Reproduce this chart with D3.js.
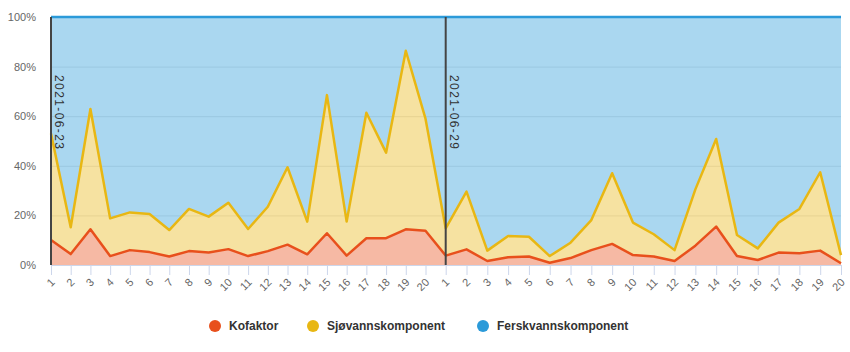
<!DOCTYPE html>
<html>
<head>
<meta charset="utf-8">
<script src="https://cdn.jsdelivr.net/npm/d3@7"></script>
<style>
  body { margin: 0; background: #fff; }
  svg text { font-family: "Liberation Sans", Arial, sans-serif; }
</style>
</head>
<body>
<div id="chart"></div>
<script>
// sample labels, two runs of 20
const labels = ["1","2","3","4","5","6","7","8","9","10","11","12","13","14","15","16","17","18","19","20",
                "1","2","3","4","5","6","7","8","9","10","11","12","13","14","15","16","17","18","19","20"];

const kofaktor = [10.1, 4.4, 14.4, 3.6, 6.0, 5.2, 3.4, 5.6, 5.0, 6.4, 3.6, 5.6, 8.2, 4.3, 12.8, 3.8, 10.8, 10.8, 14.4, 13.8,
                  3.8, 6.3, 1.6, 3.1, 3.4, 0.9, 2.8, 6.0, 8.5, 4.0, 3.4, 1.6, 7.8, 15.5, 3.6, 2.0, 5.0, 4.7, 5.8, 0.7];
const sjovann = [42.9, 10.8, 48.5, 15.2, 15.2, 15.4, 10.7, 17.0, 14.5, 18.7, 10.9, 17.9, 31.2, 13.2, 55.7, 13.7, 50.6, 34.5, 72.0, 45.2,
                 11.0, 23.3, 4.2, 8.6, 8.0, 2.7, 6.2, 12.1, 28.5, 13.1, 9.0, 4.4, 22.7, 35.3, 8.5, 4.7, 12.1, 17.9, 31.6, 3.3];
const ferskvann = [47.0, 84.8, 37.1, 81.2, 78.8, 79.4, 85.9, 77.4, 80.5, 74.9, 85.5, 76.5, 60.6, 82.5, 31.5, 82.5, 38.6, 54.7, 13.6, 41.0,
                   85.2, 70.4, 94.2, 88.3, 88.6, 96.4, 91.0, 81.9, 63.0, 82.9, 87.6, 94.0, 69.5, 49.2, 87.9, 93.3, 82.9, 77.4, 62.6, 96.0];

const dateLabels = ["2021-06-23", "2021-06-29"];
const dateIndex = [0, 20];

const seriesNames = ["Kofaktor", "Sjøvannskomponent", "Ferskvannskomponent"];
const colors = ["#e8501c", "#e8b713", "#2b9ad9"];
const yTickValues = [0, 0.2, 0.4, 0.6, 0.8, 1];

const width = 850, height = 352;
const mLeft = 51, mRight = 841, mTop = 17, mBottom = 265;

const rows = labels.map((l, i) => ({i: i, k: kofaktor[i], s: sjovann[i], f: ferskvann[i]}));
const stack = d3.stack().keys(["k", "s", "f"]).offset(d3.stackOffsetExpand);
const stacked = stack(rows);

// first run is a bit tighter than the second
const x = d3.scaleLinear().domain([0, 19, 20, 39]).range([mLeft, 425.5, 445.7, mRight]);
const y = d3.scaleLinear().domain([0, 1]).range([mBottom, mTop]);

const svg = d3.select('#chart').append('svg')
    .attr('width', width)
    .attr('height', height);

// grid
svg.append('g')
    .selectAll('line')
    .data(yTickValues.slice(1, -1))
    .enter().append('line')
    .attr('x1', mLeft).attr('x2', mRight)
    .attr('y1', d => y(d) + 0.5).attr('y2', d => y(d) + 0.5)
    .attr('stroke', '#e6e6e6');

const area = d3.area()
    .x(d => x(d.data.i))
    .y0(d => y(d[0]))
    .y1(d => y(d[1]));
const line = d3.line()
    .x(d => x(d.data.i))
    .y(d => y(d[1]));

svg.append('g').selectAll('path')
    .data(stacked)
    .enter().append('path')
    .attr('d', area)
    .attr('fill', (d, i) => colors[i])
    .attr('fill-opacity', 0.4);

// x axis
const xAxis = d3.axisBottom(x)
    .tickValues(d3.range(labels.length))
    .tickFormat(i => labels[i])
    .tickSizeInner(10)
    .tickSizeOuter(0);
const gx = svg.append('g')
    .attr('transform', `translate(0,${mBottom})`)
    .call(xAxis);
gx.select('.domain').attr('stroke', '#ccd6eb');
gx.selectAll('.tick line').attr('stroke', '#ccd6eb');
gx.selectAll('.tick text')
    .attr('fill', '#666')
    .attr('font-size', 11)
    .attr('text-anchor', 'end')
    .attr('dy', null)
    .attr('y', 0)
    .attr('transform', 'translate(4,18) rotate(-45)');

// y axis
const gy = svg.append('g')
    .attr('transform', `translate(${mLeft - 15},0)`)
    .call(d3.axisLeft(y).tickValues(yTickValues).tickFormat(d => Math.round(d * 100) + '%').tickSize(0));
gy.select('.domain').remove();
gy.selectAll('.tick text')
    .attr('fill', '#666')
    .attr('font-size', 11)
    .attr('x', 0);

// series lines, top one first
svg.append('g').selectAll('path')
    .data(stacked.slice().reverse())
    .enter().append('path')
    .attr('d', line)
    .attr('fill', 'none')
    .attr('stroke', (d, i) => colors[2 - i])
    .attr('stroke-width', 2.5)
    .attr('stroke-linejoin', 'round');

// date plot lines
const plot = svg.append('g');
plot.selectAll('line')
    .data(dateIndex)
    .enter().append('line')
    .attr('x1', d => x(d)).attr('x2', d => x(d))
    .attr('y1', mTop).attr('y2', mBottom)
    .attr('stroke', '#444')
    .attr('stroke-width', 2);
plot.selectAll('text')
    .data(dateIndex)
    .enter().append('text')
    .attr('transform', d => `translate(${x(d) + 4},75) rotate(90)`)
    .attr('font-family', '"DejaVu Sans", sans-serif')
    .attr('font-size', 12)
    .attr('letter-spacing', 1.4)
    .attr('fill', '#333')
    .text((d, i) => dateLabels[i]);

// legend
const legendX = [215, 313, 483];
const legend = svg.append('g')
    .selectAll('g')
    .data(seriesNames)
    .enter().append('g')
    .attr('transform', (d, i) => `translate(${legendX[i]},326)`);
legend.append('circle')
    .attr('r', 6)
    .attr('fill', (d, i) => colors[i]);
legend.append('text')
    .attr('x', 14)
    .attr('dy', '0.35em')
    .attr('font-size', 12)
    .attr('font-weight', 'bold')
    .attr('fill', '#333')
    .text(d => d);
</script>
</body>
</html>
